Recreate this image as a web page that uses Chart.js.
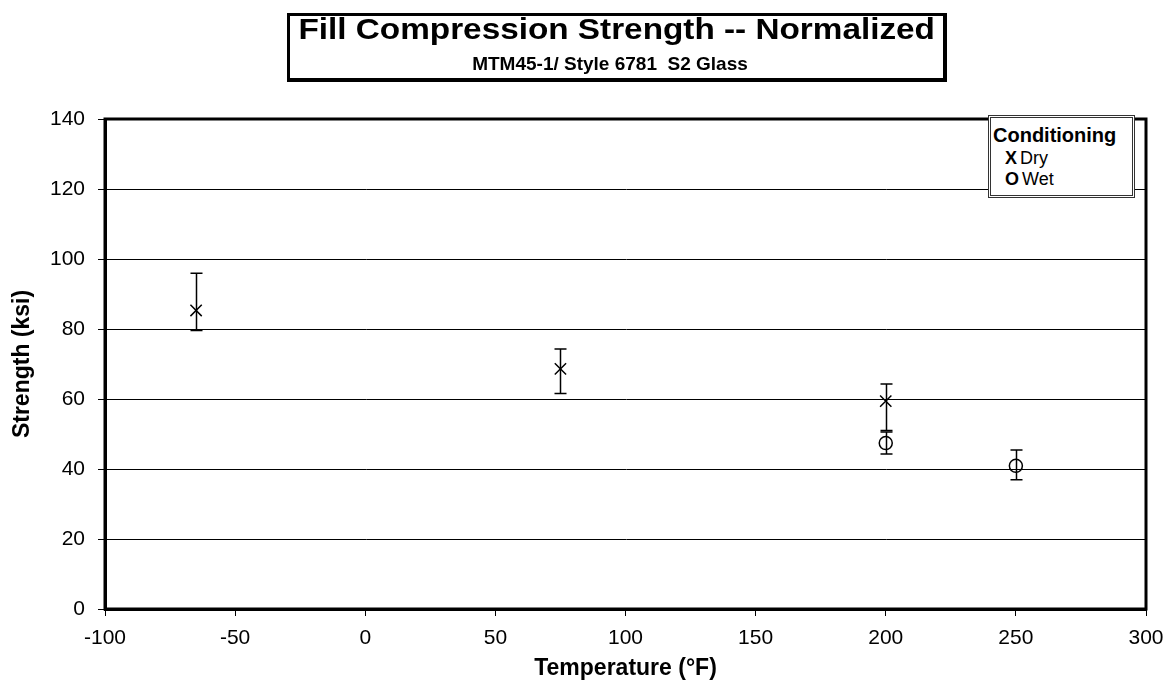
<!DOCTYPE html>
<html>
<head>
<meta charset="utf-8">
<script src="https://cdn.jsdelivr.net/npm/chart.js@4"></script>
<style>
  body { margin: 0; background: #fff; font-family: "Liberation Sans", Arial, sans-serif; color: #000; }
  #wrap { position: relative; width: 1169px; height: 687px; }
  .abs { position: absolute; white-space: nowrap; line-height: 1; }
  #title-box {
    position: absolute; left: 287px; top: 13px; width: 660px; height: 69px;
    box-sizing: border-box; border: 3px solid #000; border-right-width: 4px; border-bottom-width: 4px;
  }
  #title-main { left: 287px; width: 660px; top: 14px; text-align: center; font-weight: bold; font-size: 30px; }
  #title-main span { display: inline-block; transform: scaleX(1.11); }
  #title-sub { left: 280px; width: 660px; top: 54px; text-align: center; font-weight: bold; font-size: 19px; }
  #legend-box {
    position: absolute; left: 988px; top: 115px; width: 147px; height: 83px;
    box-sizing: border-box; border: 3px double #333; background: #fff;
  }
  #leg-head { left: 993px; top: 125px; font-weight: bold; font-size: 20px; }
  .leg-row { left: 1005px; font-size: 18px; }
  .leg-row b { margin-right: 3px; }
</style>
</head>
<body>
<div id="wrap">
  <canvas id="chart" width="1169" height="687"></canvas>
  <div id="title-box"></div>
  <div id="title-main" class="abs"><span>Fill Compression Strength -- Normalized</span></div>
  <div id="title-sub" class="abs">MTM45-1/ Style 6781&nbsp; S2 Glass</div>
  <div id="legend-box"></div>
  <div id="leg-head" class="abs">Conditioning</div>
  <div class="abs leg-row" style="top:149px"><b>X</b>Dry</div>
  <div class="abs leg-row" style="top:170px"><b>O</b>Wet</div>
</div>
<script>
// ─── Data ─────────────────────────────────────
const dryTemps = [-65, 75, 200];
const dryMean  = [85.3, 68.6, 59.4];
const dryHigh  = [95.9, 74.3, 64.3];
const dryLow   = [79.6, 61.6, 51.0];

const wetTemps = [200, 250];
const wetMean  = [47.4, 40.9];
const wetHigh  = [50.6, 45.4];
const wetLow   = [44.3, 36.9];

const xTicks = [-100, -50, 0, 50, 100, 150, 200, 250, 300];
const yTicks = [0, 20, 40, 60, 80, 100, 120, 140];

const FONT = 'Liberation Sans, Arial, sans-serif';

function toPoints(xs, ys, hi, lo) {
    return xs.map((x, i) => ({ x: x, y: ys[i], hi: hi[i], lo: lo[i] }));
}

// error bars + thick frame round the plot area
const errorBars = {
    id: 'errorBars',
    afterDatasetsDraw(chart) {
        const ctx = chart.ctx;
        const xs = chart.scales.x, ys = chart.scales.y;
        ctx.save();
        ctx.strokeStyle = '#000';
        ctx.lineWidth = 1.5;
        chart.data.datasets.forEach(ds => {
            ds.data.forEach(p => {
                const px = Math.round(xs.getPixelForValue(p.x)) + 0.5;
                const top = ys.getPixelForValue(p.hi);
                const bot = ys.getPixelForValue(p.lo);
                ctx.beginPath();
                ctx.moveTo(px, top); ctx.lineTo(px, bot);
                ctx.moveTo(px - 6, top); ctx.lineTo(px + 6, top);
                ctx.moveTo(px - 6, bot); ctx.lineTo(px + 6, bot);
                ctx.stroke();
            });
        });
        ctx.restore();
    },
    afterDraw(chart) {
        const a = chart.chartArea;
        const ctx = chart.ctx;
        ctx.save();
        ctx.strokeStyle = '#000';
        ctx.lineWidth = 3;
        ctx.strokeRect(a.left, a.top, a.right - a.left, a.bottom - a.top);
        ctx.restore();
    }
};

new Chart(document.getElementById('chart'), {
    type: 'scatter',
    data: {
        datasets: [
            {
                label: 'Dry',
                data: toPoints(dryTemps, dryMean, dryHigh, dryLow),
                pointStyle: 'crossRot',
                pointRadius: 8,
                borderColor: '#000',
                borderWidth: 1.5,
                backgroundColor: 'transparent'
            },
            {
                label: 'Wet',
                data: toPoints(wetTemps, wetMean, wetHigh, wetLow),
                pointStyle: 'circle',
                pointRadius: 6.5,
                borderColor: '#000',
                borderWidth: 1.5,
                backgroundColor: 'transparent'
            }
        ]
    },
    options: {
        responsive: false,
        animation: false,
        layout: { padding: { top: 119, right: 23, left: 0, bottom: 0 } },
        plugins: {
            legend: { display: false },
            tooltip: { enabled: false }
        },
        scales: {
            x: {
                type: 'linear',
                min: -100, max: 300,
                afterBuildTicks: s => { s.ticks = xTicks.map(v => ({ value: v })); },
                afterFit: s => { s.height = 78; s.paddingLeft = 0; s.paddingRight = 0; },
                ticks: { color: '#000', font: { family: FONT, size: 21 }, padding: 10, maxRotation: 0 },
                grid: { drawOnChartArea: false, drawTicks: true, tickLength: 7, color: '#000', lineWidth: 1 },
                border: { color: '#000', width: 3 },
                title: {
                    display: true, text: 'Temperature (°F)', color: '#000',
                    font: { family: FONT, size: 23, weight: 'bold' }, padding: { top: 5, bottom: 5 }
                }
            },
            y: {
                min: 0, max: 140,
                afterBuildTicks: s => { s.ticks = yTicks.map(v => ({ value: v })); },
                afterFit: s => { s.width = 105; s.paddingTop = 0; s.paddingBottom = 0; },
                ticks: { color: '#000', font: { family: FONT, size: 21 }, padding: 13 },
                grid: { drawOnChartArea: true, drawTicks: true, tickLength: 7, color: '#000', lineWidth: 1 },
                border: { color: '#000', width: 3 },
                title: {
                    display: true, text: 'Strength (ksi)', color: '#000',
                    font: { family: FONT, size: 23, weight: 'bold' }, padding: { top: 9, bottom: 9 }
                }
            }
        }
    },
    plugins: [errorBars]
});
</script>
</body>
</html>
